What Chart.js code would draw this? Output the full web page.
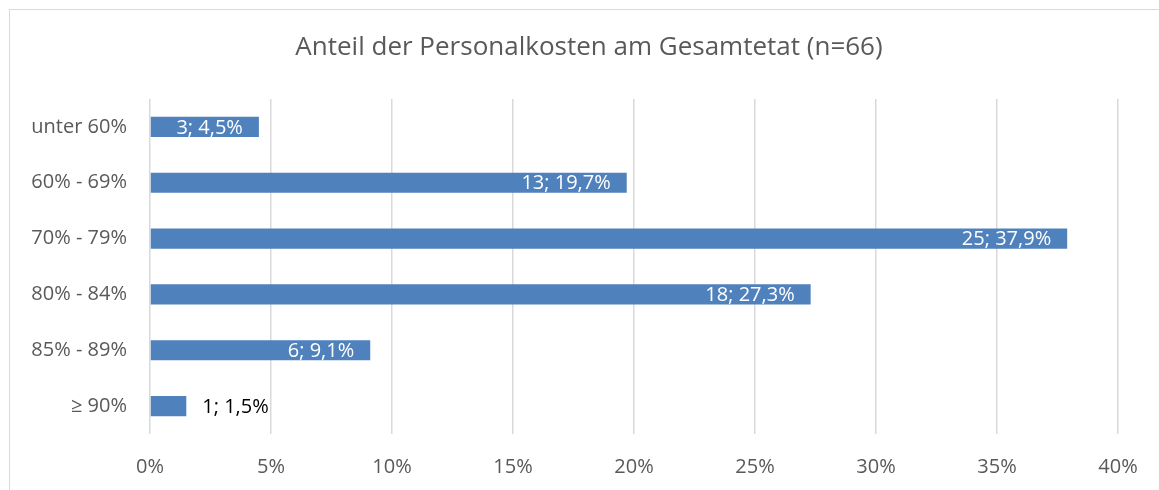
<!DOCTYPE html>
<html><head><meta charset="utf-8">
<script src="https://cdn.jsdelivr.net/npm/chart.js@4/dist/chart.umd.min.js"></script>
<style>html,body{margin:0;padding:0;background:#fff;}#wrap{position:relative;width:1159px;height:490px;}</style>
</head><body><div id="wrap"><canvas id="c" width="1159" height="490"></canvas></div>
<script>
const categories = ["unter 60%", "60% - 69%", "70% - 79%", "80% - 84%", "85% - 89%", "≥ 90%"];
const counts = [3, 13, 25, 18, 6, 1];
const percents = [4.5, 19.7, 37.9, 27.3, 9.1, 1.5];
const xTicks = [0, 5, 10, 15, 20, 25, 30, 35, 40];
const titleText = 'Anteil der Personalkosten am Gesamtetat (n=66)';
const FONT = "'Open Sans', Lato, 'Noto Sans', sans-serif";

const frame = {
  id: 'frame',
  beforeDraw(chart) {
    const ctx = chart.ctx;
    ctx.save();
    ctx.fillStyle = '#fff';
    ctx.fillRect(0, 0, chart.width, chart.height);
    ctx.strokeStyle = '#d9d9d9';
    ctx.lineWidth = 1;
    ctx.strokeRect(9.5, 9.5, 1200, 500);
    ctx.fillStyle = '#595959';
    ctx.font = "26px " + FONT;
    ctx.textAlign = 'center';
    ctx.textBaseline = 'middle';
    ctx.fillText(titleText, 589, 48);
    ctx.restore();
  }
};
const labels = {
  id: 'labels',
  afterDatasetsDraw(chart) {
    const ctx = chart.ctx;
    const meta = chart.getDatasetMeta(0);
    ctx.save();
    ctx.font = "20px " + FONT;
    ctx.textBaseline = 'middle';
    meta.data.forEach((bar, i) => {
      const txt = counts[i] + "; " + percents[i].toFixed(1).replace('.', ',') + "%";
      const w = ctx.measureText(txt).width;
      const barW = bar.x - bar.base;
      if (barW > w + 20) {
        ctx.fillStyle = '#ffffff';
        ctx.textAlign = 'right';
        ctx.fillText(txt, bar.x - 16, bar.y + 1);
      } else {
        ctx.fillStyle = '#000000';
        ctx.textAlign = 'left';
        ctx.fillText(txt, bar.x + 16, bar.y + 1);
      }
    });
    ctx.restore();
  }
};

new Chart(document.getElementById('c'), {
  type: 'bar',
  data: {
    labels: categories,
    datasets: [{ data: percents, backgroundColor: '#4f81bd', barPercentage: 0.36, categoryPercentage: 1.0 }]
  },
  options: {
    indexAxis: 'y',
    responsive: false,
    animation: false,
    devicePixelRatio: 1,
    layout: { padding: { left: 0, right: 41, top: 99, bottom: 0 } },
    plugins: {
      legend: { display: false },
      tooltip: { enabled: false },
      title: { display: false }
    },
    scales: {
      x: {
        min: 0, max: 40,
        afterBuildTicks(s) { s.ticks = xTicks.map(v => ({ value: v })); },
        afterFit(s) { s.height = 56; },
        grid: { color: '#d9d9d9', lineWidth: 1.5, drawTicks: false },
        border: { display: false },
        ticks: { color: '#595959', padding: 21, font: { family: FONT, size: 20 }, callback: v => v + '%' }
      },
      y: {
        afterFit(s) { s.width = 150; },
        grid: { display: false, drawTicks: false },
        border: { display: false },
        ticks: { color: '#595959', padding: 23, font: { family: FONT, size: 20 } }
      }
    }
  },
  plugins: [frame, labels]
});
</script></body></html>
